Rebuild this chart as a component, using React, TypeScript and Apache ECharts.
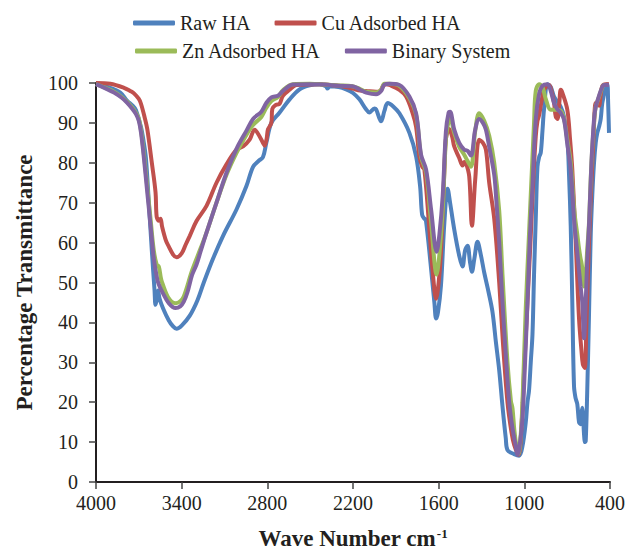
import React, { useEffect, useRef } from 'react';
import * as echarts from 'echarts';

const seriesNames = ['Raw HA', 'Cu Adsorbed HA', 'Zn Adsorbed HA', 'Binary System'];
const seriesColors = ['#4F81BD', '#C0504D', '#9BBB59', '#8064A2'];
const xTicks = [4000, 3400, 2800, 2200, 1600, 1000, 400];

const rawHA: [number, number][] = [
  [4000, 99.7], [3900, 98.8], [3830, 97.6], [3783, 95.6], [3740, 94.2], [3720, 93.2], [3685, 89], [3665, 85], [3650, 81],
  [3630, 70], [3609, 58], [3590, 48], [3583, 44.4], [3572, 46], [3565, 48], [3555, 46], [3530, 43.5], [3490, 40.5],
  [3460, 39], [3436, 38.4], [3400, 39.2], [3343, 41.7], [3290, 45.5], [3245, 50], [3180, 56], [3110, 61.7], [3016, 68.3],
  [2947, 74.1], [2900, 79], [2860, 80.5], [2831, 81.4], [2807, 85], [2772, 90], [2714, 92.6], [2644, 95.9], [2574, 98.4],
  [2504, 99.4], [2434, 99.7], [2390, 99.2], [2378, 98.6], [2364, 99.2], [2300, 99], [2248, 98.4], [2200, 97.5],
  [2155, 95.9], [2110, 93.5], [2085, 92.6], [2050, 93.6], [2038, 93.4], [2003, 90.4], [1980, 93], [1957, 95],
  [1920, 94.2], [1875, 92.4], [1805, 87.5], [1758, 81.6], [1730, 74.1], [1716, 67], [1700, 66], [1690, 65.8],
  [1653, 53.4], [1630, 45], [1618, 41], [1605, 42.5], [1584, 49.2], [1560, 65], [1537, 73.5], [1520, 70], [1491, 63.3],
  [1456, 56.7], [1433, 54], [1415, 58], [1398, 59.2], [1380, 55], [1367, 52.7], [1350, 56], [1328, 60.2], [1305, 57],
  [1281, 52.5], [1250, 47.5], [1223, 42.6], [1199, 35], [1176, 28], [1153, 19], [1130, 11], [1118, 8], [1071, 7],
  [1036, 6.6], [1013, 9], [990, 15], [978, 20], [967, 23], [955, 30], [943, 37], [932, 52], [920, 66], [908, 79],
  [896, 81.5], [885, 82.5], [873, 88], [862, 93.4], [838, 99.7], [815, 99], [792, 96.6], [745, 94], [722, 91.5],
  [699, 86], [687, 77], [675, 64], [664, 45], [652, 24], [641, 21], [629, 19.5], [617, 15], [606, 14.5], [600, 17],
  [594, 18.6], [589, 17], [582, 12], [575, 10], [570, 10.3], [560, 22], [547, 42], [535, 62], [524, 72], [512, 80],
  [500, 85], [489, 87.5], [477, 89], [465, 91], [454, 95], [442, 97], [430, 99.2], [419, 99.7], [413, 95], [407, 87.5],
];

const cuHA: [number, number][] = [
  [4000, 100], [3900, 99.8], [3804, 98.8], [3760, 98], [3734, 97.4], [3700, 96], [3685, 94.8], [3660, 91.5],
  [3641, 88.5], [3609, 80], [3583, 72.6], [3575, 66.5], [3560, 65.5], [3548, 66], [3537, 64], [3510, 60.5],
  [3490, 59], [3460, 57], [3436, 56.3], [3400, 57.3], [3373, 59.4], [3343, 61.7], [3296, 65.4], [3226, 69.2],
  [3156, 75], [3086, 79.6], [3016, 83.3], [2970, 84.1], [2924, 85.8], [2889, 88.3], [2854, 86.6], [2831, 85],
  [2819, 84.3], [2805, 86], [2796, 88.3], [2772, 90], [2765, 93.5], [2740, 94.5], [2714, 94.8], [2691, 96.8],
  [2644, 98.3], [2597, 99.5], [2527, 99.6], [2434, 99.7], [2300, 99.3], [2204, 98.6], [2150, 98.1], [2108, 98],
  [2038, 97.8], [2010, 98], [1990, 99.2], [1968, 99.7], [1945, 99.5], [1875, 98.3], [1828, 96.6], [1782, 92.4],
  [1758, 89], [1735, 81.6], [1715, 79], [1700, 78.3], [1665, 63.3], [1640, 52], [1618, 45.9], [1600, 50],
  [1584, 57.5], [1560, 78], [1549, 86], [1526, 88.5], [1505, 86.5], [1491, 84.1], [1456, 81.2], [1433, 79.3],
  [1420, 80.2], [1409, 80], [1386, 76.6], [1367, 64.2], [1344, 75.8], [1316, 85.8], [1290, 85], [1269, 83.3],
  [1246, 75], [1211, 66], [1176, 50], [1150, 35], [1118, 20], [1090, 12.5], [1071, 9.3], [1041, 6.8], [1020, 14],
  [1001, 28.4], [978, 45], [955, 61.7], [938, 75], [920, 86.6], [908, 90.5], [896, 92], [873, 96.8], [862, 98.3],
  [827, 99.5], [810, 98], [792, 95], [780, 91.6], [768, 91], [755, 95], [745, 98.3], [734, 97.6], [699, 93.3],
  [680, 86], [664, 78.3], [640, 60], [617, 41], [600, 33], [590, 29.5], [577, 28.6], [565, 40], [547, 60.2],
  [530, 75], [517, 85.1], [500, 95], [489, 95], [477, 94.3], [465, 97], [454, 99.2], [430, 99.7], [407, 99.7],
];

const znHA: [number, number][] = [
  [4000, 99.7], [3930, 98.7], [3874, 97.8], [3820, 96.5], [3783, 95.3], [3745, 93.8], [3720, 92.5], [3700, 91],
  [3685, 88.2], [3664, 82], [3641, 74], [3618, 66], [3595, 58], [3575, 54.5], [3560, 54], [3545, 51], [3537, 50],
  [3490, 46], [3443, 44.8], [3410, 45.3], [3385, 46.5], [3327, 53], [3268, 58.5], [3226, 62.5], [3156, 70],
  [3086, 77], [3016, 82.5], [2947, 87], [2900, 89.5], [2842, 91.5], [2807, 93.8], [2772, 95.5], [2726, 96.5],
  [2691, 98.2], [2621, 99.7], [2504, 99.8], [2400, 99.6], [2300, 99.4], [2204, 99.2], [2150, 98.5], [2108, 97.8],
  [2038, 97.6], [2003, 98.3], [1980, 99.8], [1945, 99.8], [1875, 99.3], [1805, 96.2], [1758, 92], [1723, 81.5],
  [1688, 77.5], [1653, 65], [1614, 52], [1595, 57], [1572, 68], [1549, 86], [1530, 90.5], [1520, 91.2],
  [1491, 87.5], [1456, 84], [1421, 82], [1398, 80.5], [1374, 79], [1344, 88], [1316, 92.4], [1281, 90.5],
  [1246, 86.8], [1211, 80], [1176, 68], [1153, 52], [1118, 30], [1094, 20.3], [1083, 18.5], [1070, 13], [1055, 9],
  [1041, 7], [1025, 12], [1013, 20], [990, 43.6], [970, 60], [955, 72], [932, 90], [920, 98], [896, 99.7],
  [873, 99], [850, 96], [815, 93.3], [780, 93.3], [745, 93], [722, 91], [700, 86], [675, 80], [650, 68], [629, 62],
  [617, 58.5], [606, 56], [600, 55], [594, 53.5], [582, 49], [570, 52], [560, 58], [547, 65], [530, 80], [512, 90],
  [500, 94], [477, 96.5], [460, 98.3], [442, 99.5], [407, 99.5],
];

const binarySystem: [number, number][] = [
  [4000, 99.7], [3930, 98.6], [3874, 97.6], [3820, 96.3], [3783, 95.1], [3745, 93.5], [3720, 92.2], [3700, 90.5],
  [3685, 87.6], [3664, 81], [3641, 72.6], [3618, 64.3], [3595, 56], [3572, 51], [3560, 49.5], [3537, 47.7],
  [3490, 44.8], [3443, 43.6], [3410, 44], [3385, 45.2], [3360, 47.5], [3327, 51.9], [3296, 54.5], [3268, 57.7],
  [3226, 62.5], [3156, 70], [3086, 77.5], [3016, 83.5], [2947, 88], [2900, 91], [2842, 92.8], [2807, 95],
  [2772, 96.4], [2726, 96.8], [2691, 98], [2621, 99.6], [2504, 99.7], [2400, 99.6], [2300, 99.3], [2204, 99.2],
  [2150, 98.3], [2108, 97.6], [2038, 97.2], [2003, 98], [1980, 99.6], [1945, 99.8], [1875, 99.5], [1805, 96.6],
  [1758, 92.4], [1723, 82], [1688, 78.3], [1653, 68.3], [1614, 57.7], [1595, 62], [1572, 71.6], [1549, 88],
  [1530, 92.6], [1520, 92.8], [1491, 88.3], [1456, 85], [1421, 83.3], [1398, 83], [1374, 81.8], [1344, 88.3],
  [1316, 91], [1290, 90], [1269, 88.3], [1246, 84], [1211, 77], [1199, 72], [1176, 60], [1153, 45], [1130, 32],
  [1106, 20], [1083, 13.5], [1060, 9], [1048, 6.8], [1035, 8.5], [1013, 16], [995, 30], [978, 45], [960, 62],
  [943, 74], [920, 90.8], [896, 97.4], [873, 99.3], [838, 99.7], [815, 98], [792, 95], [768, 93.4], [745, 92.5],
  [722, 90.8], [700, 85], [675, 78.3], [650, 65], [629, 57.5], [606, 49], [594, 45], [582, 36], [570, 45],
  [560, 55], [547, 64.3], [530, 80], [512, 90.8], [500, 94], [477, 96.8], [460, 98.5], [442, 99.5], [407, 99.5],
];

const seriesData = [rawHA, cuHA, znHA, binarySystem];

export default function App() {
  const ref = useRef<HTMLDivElement>(null);
  useEffect(() => {
    if (!ref.current) return;
    const chart = echarts.init(ref.current, null, { renderer: 'svg' });
    const font = 'Liberation Serif';
    const ink = '#231F20';
    const legendCommon = {
      icon: 'roundRect',
      itemWidth: 42,
      itemHeight: 5,
      itemGap: 24,
      textStyle: { fontFamily: font, fontSize: 20, color: ink, lineHeight: 22 },
    };
    chart.setOption({
      animation: false,
      grid: { left: 96, right: 17, top: 83, bottom: 71 },
      legend: [
        { ...legendCommon, data: [seriesNames[0], seriesNames[1]], top: 7, left: 128 },
        { ...legendCommon, data: [seriesNames[2], seriesNames[3]], top: 35, left: 130 },
      ],
      xAxis: {
        type: 'value',
        min: 400,
        max: 4000,
        inverse: true,
        name: 'Wave Number cm{sup|-1}',
        nameLocation: 'middle',
        nameGap: 45,
        nameTextStyle: {
          fontFamily: font,
          fontSize: 23,
          fontWeight: 'bold',
          color: ink,
          rich: {
            sup: { fontFamily: font, fontSize: 13, fontWeight: 'bold', color: ink, padding: [0, 0, 10, 1] },
          },
        },
        axisLine: { lineStyle: { color: ink, width: 2 } },
        axisTick: { show: true, length: 7, customValues: xTicks, lineStyle: { color: '#444', width: 1.5 } },
        axisLabel: {
          customValues: xTicks,
          margin: 11,
          fontFamily: font,
          fontSize: 20,
          color: ink,
          formatter: (v: number) => String(v),
        },
        splitLine: { show: false },
      },
      yAxis: {
        type: 'value',
        min: 0,
        max: 100,
        interval: 10,
        name: 'Percentage Transmittance',
        nameLocation: 'middle',
        nameGap: 60,
        nameTextStyle: { fontFamily: font, fontSize: 23, fontWeight: 'bold', color: ink },
        axisLine: { show: true, lineStyle: { color: ink, width: 2 } },
        axisTick: { show: true, length: 7, lineStyle: { color: '#444', width: 1.5 } },
        axisLabel: { margin: 18, fontFamily: font, fontSize: 20, color: ink },
        splitLine: { show: false },
      },
      series: seriesNames.map((name, i) => ({
        name,
        type: 'line',
        data: seriesData[i],
        showSymbol: false,
        symbol: 'none',
        smooth: 0.35,
        color: seriesColors[i],
        lineStyle: { color: seriesColors[i], width: 4 },
        z: 2 + i,
      })),
    });
    return () => chart.dispose();
  }, []);
  return <div ref={ref} style={{ position: 'absolute', left: 0, top: 0, width: 628, height: 555 }} />;
}
